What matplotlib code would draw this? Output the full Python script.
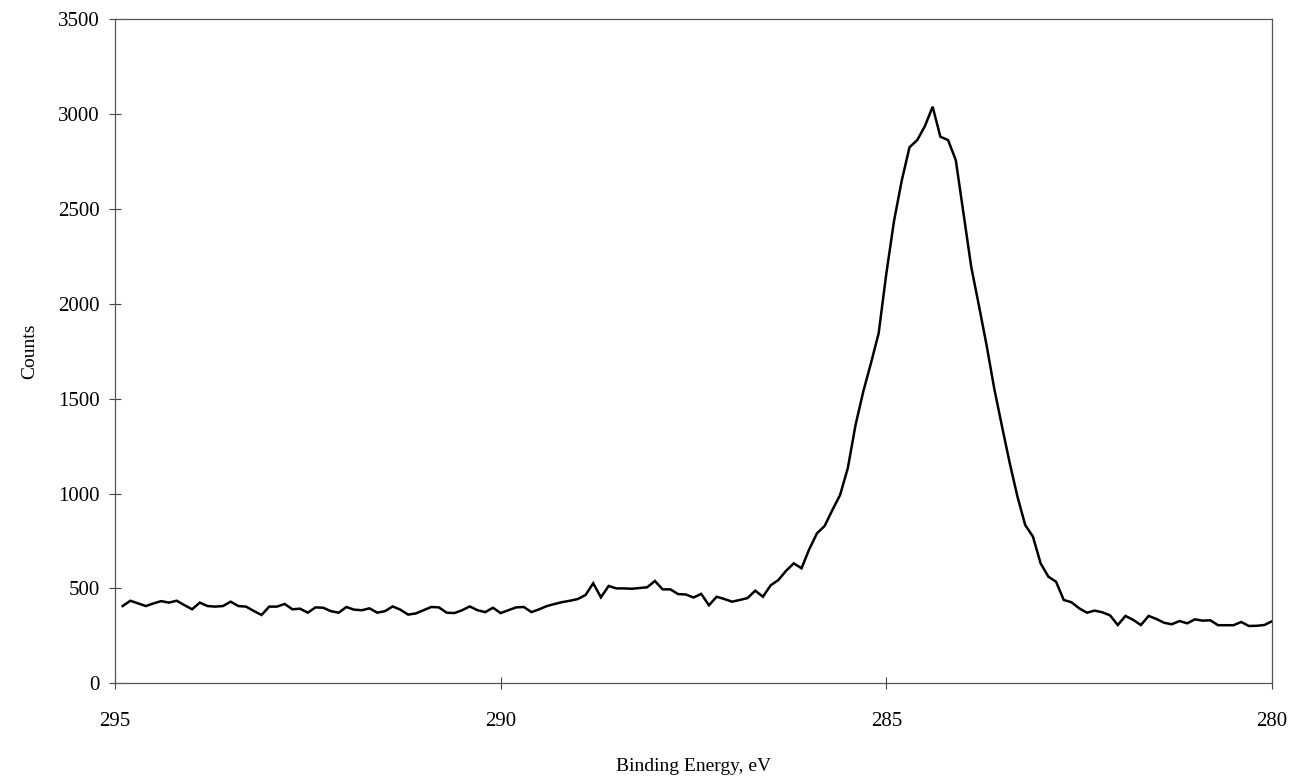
import numpy as np
import matplotlib
matplotlib.use("Agg")
import matplotlib.pyplot as plt

# スペクトル (C 1s), 0.1 eV 刻み, 294.9 eV -> 280.0 eV
energy_start = 294.9
energy_step = 0.1
counts = [
    407, 435, 421, 407, 421, 433, 425, 435, 412, 390,
    425, 407, 404, 407, 430, 407, 404, 381, 360, 404,
    404, 418, 390, 393, 372, 400, 398, 380, 372, 402,
    388, 385, 395, 372, 380, 405, 388, 362, 368, 385,
    402, 400, 372, 370, 385, 405, 385, 375, 398, 370,
    385, 400, 402, 375, 390, 407, 418, 428, 435, 444,
    465, 527, 453, 513, 500, 500, 498, 502, 506, 539,
    495, 495, 470, 468, 452, 471, 411, 456, 444, 430,
    439, 449, 488, 456, 516, 544, 593, 632, 606, 706,
    790, 829, 913, 992, 1133, 1360, 1536, 1686, 1844, 2160,
    2437, 2650, 2824, 2862, 2936, 3038, 2880, 2862, 2757, 2476,
    2195, 1990, 1780, 1550, 1352, 1159, 983, 834, 773, 632,
    562, 535, 439, 427, 395, 372, 383, 374, 358, 307,
    355, 334, 307, 355, 339, 319, 311, 328, 316, 337,
    330, 332, 306, 306, 306, 323, 302, 303, 307, 327,
]
energy = np.round(energy_start - energy_step * np.arange(len(counts)), 1)

x_ticks = [295, 290, 285, 280]
y_ticks = [0, 500, 1000, 1500, 2000, 2500, 3000, 3500]

def draw_figure():
    plt.rcParams['font.family'] = ['Liberation Serif', 'DejaVu Serif']
    fig = plt.figure(figsize=(12.93, 7.77), dpi=100)
    ax = fig.add_axes([0.0889, 0.1206, 0.8949, 0.8549])

    ax.plot(energy, counts, color='black', lw=1.8, solid_joinstyle='miter')

    ax.set_xlim(295, 280)
    ax.set_ylim(0, 3500)
    ax.set_xticks(x_ticks)
    ax.set_yticks(y_ticks)
    ax.tick_params(axis='both', direction='inout', length=8, width=0.8,
                   color='#444444', labelsize=15)
    ax.tick_params(axis='y', pad=7)
    ax.tick_params(axis='x', pad=17)
    for s in ax.spines.values():
        s.set_color('#555555')
        s.set_linewidth(0.9)

    ax.set_xlabel("Binding Energy, eV", fontsize=14, labelpad=19)
    ax.set_ylabel("Counts", fontsize=14, labelpad=14)
    fig.savefig("out.png", dpi=100)

if __name__ == '__main__':
    draw_figure()
